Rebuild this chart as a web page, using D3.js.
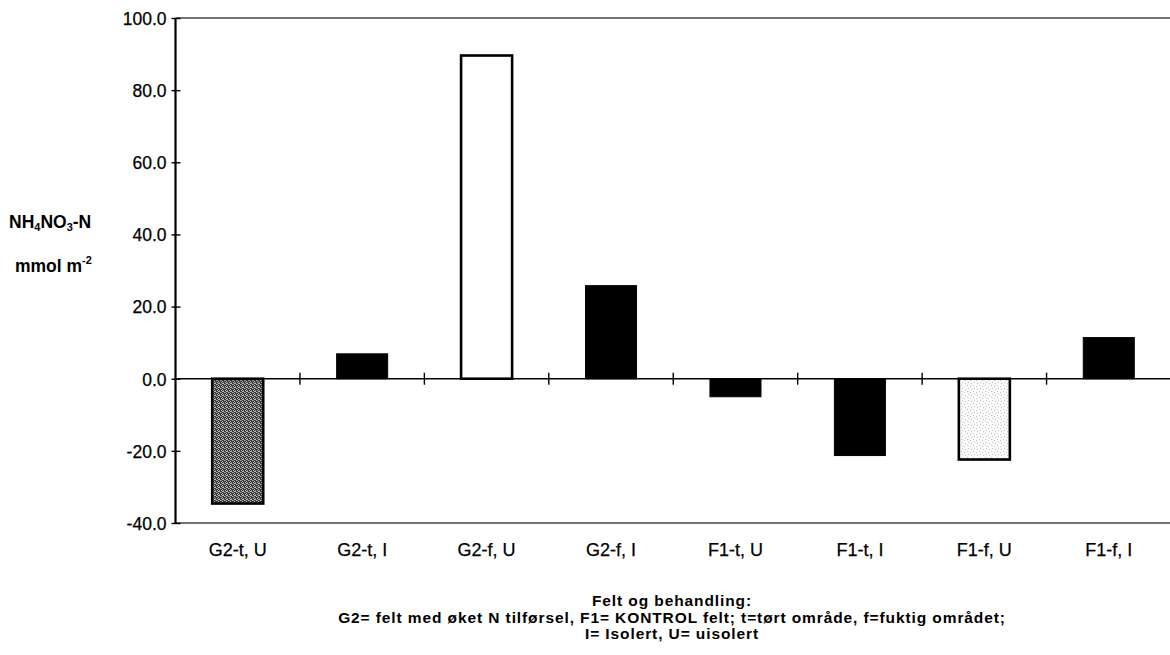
<!DOCTYPE html>
<html>
<head>
<meta charset="utf-8">
<script src="https://cdn.jsdelivr.net/npm/d3@7/dist/d3.min.js"></script>
<style>
  html, body { margin: 0; padding: 0; background: #fff; }
  svg { display: block; font-family: "Liberation Sans", Arial, Helvetica, sans-serif; }
</style>
</head>
<body>
<svg id="chart" width="1170" height="655"></svg>
<script>
// Nitrate/ammonium balance per field and treatment
const categories = ["G2-t, U", "G2-t, I", "G2-f, U", "G2-f, I", "F1-t, U", "F1-t, I", "F1-f, U", "F1-f, I"];
const values = [-34.6, 6.9, 89.6, 25.8, -5.0, -21.3, -22.4, 11.4];
// Fill style per bar: "dark" dotted grey, "open" white, "light" faint dots, "solid" black
const fills = ["dark", "solid", "open", "solid", "solid", "solid", "light", "solid"];
const yTicks = [-40, -20, 0, 20, 40, 60, 80, 100];
const footerLines = [
  "Felt og behandling:",
  "G2= felt med øket N tilførsel,  F1= KONTROL felt; t=tørt område, f=fuktig området;",
  "I= Isolert, U= uisolert"
];

const svg = d3.select("#chart");
const plotLeft = 175.5, plotRight = 1171, plotTop = 18, plotBottom = 523;

const x = d3.scaleBand().domain(categories).range([plotLeft, plotRight]).padding(0);
const y = d3.scaleLinear().domain([-40, 100]).range([plotBottom, plotTop]);

// Patterns for the textured bars
const defs = svg.append("defs");
const dark = defs.append("pattern").attr("id", "darkDots")
  .attr("width", 4).attr("height", 4).attr("patternUnits", "userSpaceOnUse");
dark.append("rect").attr("width", 4).attr("height", 4).attr("fill", "#3a3a3a");
[[0,0],[2,1],[1,2],[3,3],[2,3]].forEach(([px, py]) =>
  dark.append("rect").attr("x", px).attr("y", py).attr("width", 1).attr("height", 1).attr("fill", "#b8b8b8"));
[[1,0],[3,2]].forEach(([px, py]) =>
  dark.append("rect").attr("x", px).attr("y", py).attr("width", 1).attr("height", 1).attr("fill", "#7a7a7a"));

const light = defs.append("pattern").attr("id", "lightDots")
  .attr("width", 6).attr("height", 6).attr("patternUnits", "userSpaceOnUse");
light.append("rect").attr("width", 6).attr("height", 6).attr("fill", "#fbfbfb");
[[1,1],[4,2],[2,4],[5,5]].forEach(([px, py]) =>
  light.append("rect").attr("x", px).attr("y", py).attr("width", 1).attr("height", 1).attr("fill", "#c4c4c4"));

const fillFor = f => f === "dark" ? "url(#darkDots)" : f === "light" ? "url(#lightDots)" : f === "open" ? "#fff" : "#000";

// Frame lines at top and bottom of the plot
svg.append("line").attr("x1", plotLeft).attr("x2", plotRight).attr("y1", y(100)).attr("y2", y(100))
  .attr("stroke", "#444").attr("stroke-width", 1.5);
svg.append("line").attr("x1", plotLeft).attr("x2", plotRight).attr("y1", y(-40)).attr("y2", y(-40))
  .attr("stroke", "#444").attr("stroke-width", 1.5);

// Bars
const barW = x.bandwidth() * 0.41;
svg.append("g").selectAll("rect").data(values).join("rect")
  .attr("x", (d, i) => x(categories[i]) + (x.bandwidth() - barW) / 2)
  .attr("y", d => y(Math.max(0, d)))
  .attr("width", barW)
  .attr("height", d => Math.abs(y(d) - y(0)))
  .attr("fill", (d, i) => fillFor(fills[i]))
  .attr("stroke", "#000")
  .attr("stroke-width", (d, i) => fills[i] === "solid" ? 1 : 2.6);

// Zero line with category separators
svg.append("line").attr("x1", plotLeft).attr("x2", plotRight).attr("y1", y(0)).attr("y2", y(0))
  .attr("stroke", "#000").attr("stroke-width", 1.6);
svg.append("g").selectAll("line").data(categories.slice(1)).join("line")
  .attr("x1", d => x(d)).attr("x2", d => x(d))
  .attr("y1", y(0) - 6).attr("y2", y(0) + 6)
  .attr("stroke", "#000").attr("stroke-width", 1.4);

// Y axis (plain hyphen for negatives)
const fmt = d => d3.format(".1f")(d).replace("\u2212", "-");
const yAxis = svg.append("g").attr("transform", `translate(${plotLeft},0)`)
  .call(d3.axisLeft(y).tickValues(yTicks).tickFormat(fmt).tickSize(4).tickPadding(5));
yAxis.select(".domain").attr("stroke-width", 2.2).attr("d", `M0,${plotTop}V${plotBottom}`);
yAxis.selectAll(".tick line").attr("x1", -4).attr("x2", 5).attr("stroke-width", 1.4);
yAxis.selectAll(".tick text").attr("font-size", 17.5).attr("fill", "#000")
  .attr("stroke", "#000").attr("stroke-width", 0.25)
  .attr("font-family", "Liberation Sans, Arial, sans-serif").attr("dy", "0.36em");

// Category labels
svg.append("g").selectAll("text").data(categories).join("text")
  .attr("x", d => x(d) + x.bandwidth() / 2)
  .attr("y", 556)
  .attr("text-anchor", "middle")
  .attr("font-size", 18)
  .attr("stroke", "#000").attr("stroke-width", 0.25)
  .text(d => d);

// Y axis title
const t1 = svg.append("text").attr("x", 9).attr("y", 228).attr("font-size", 17.5).attr("font-weight", "bold");
t1.append("tspan").text("NH");
t1.append("tspan").attr("font-size", 11).attr("dy", 3).text("4");
t1.append("tspan").attr("dy", -3).text("NO");
t1.append("tspan").attr("font-size", 11).attr("dy", 3).text("3");
t1.append("tspan").attr("dy", -3).text("-N");
const t2 = svg.append("text").attr("x", 15).attr("y", 272).attr("font-size", 17.5).attr("font-weight", "bold");
t2.append("tspan").text("mmol m");
t2.append("tspan").attr("font-size", 11).attr("dy", -8).text("-2");

// Footer explanation
svg.append("g").selectAll("text").data(footerLines).join("text")
  .attr("x", 672)
  .attr("y", (d, i) => 606 + i * 16.5)
  .attr("text-anchor", "middle")
  .attr("font-size", 15.5)
  .attr("letter-spacing", 0.9)
  .attr("font-weight", "bold")
  .text(d => d);
</script>
</body>
</html>
